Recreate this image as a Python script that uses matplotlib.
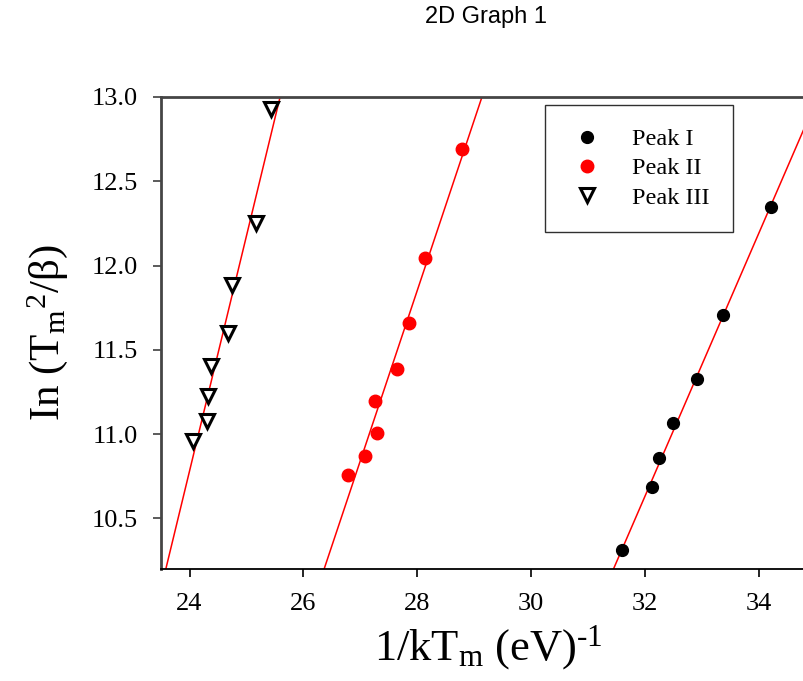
import numpy as np
import matplotlib
matplotlib.use("Agg")
import matplotlib.pyplot as plt
from matplotlib.lines import Line2D

plt.rcParams["font.family"] = ["Liberation Serif", "DejaVu Serif"]
plt.rcParams["mathtext.fontset"] = "custom"
plt.rcParams["mathtext.rm"] = "Liberation Serif"
plt.rcParams["mathtext.it"] = "Liberation Serif:italic"

# 1/kTm (eV^-1) vs ln(Tm^2/beta) for the three glow peaks
peak1_x = [31.60, 32.12, 32.25, 32.49, 32.91, 33.36, 34.21]
peak1_y = [10.310, 10.684, 10.859, 11.065, 11.326, 11.705, 12.348]

peak2_x = [26.79, 27.08, 27.29, 27.25, 27.64, 27.86, 28.13, 28.78]
peak2_y = [10.760, 10.871, 11.009, 11.194, 11.388, 11.659, 12.045, 12.691]

peak3_x = [24.06, 24.30, 24.33, 24.37, 24.67, 24.75, 25.17, 25.43]
peak3_y = [10.962, 11.075, 11.225, 11.406, 11.602, 11.883, 12.253, 12.930]

xticks = [24, 26, 28, 30, 32, 34]
yticks = [10.5, 11.0, 11.5, 12.0, 12.5, 13.0]
xlim = (23.5, 35.0)
ylim = (10.2, 13.0)

fig = plt.figure(figsize=(8.04, 6.81), dpi=100)
ax = fig.add_axes([0.2003, 0.1645, 0.8147, 0.6931])

# linear fits (red lines run across the whole plot)
yy = np.array(ylim)
for xs, ys in [(peak1_x, peak1_y), (peak2_x, peak2_y), (peak3_x, peak3_y)]:
    m, b = np.polyfit(xs, ys, 1)
    ax.plot((yy - b) / m, yy, color="red", lw=1.1, zorder=1)

ax.plot(peak1_x, peak1_y, "o", color="black", ms=8.5, zorder=3)
ax.plot(peak2_x, peak2_y, "o", color="red", ms=9, zorder=3)
ax.plot(peak3_x, peak3_y, "v", mfc="white", mec="black", mew=2.2, ms=9.5, zorder=3)

ax.set_xlim(*xlim)
ax.set_ylim(*ylim)
ax.set_xticks(xticks)
ax.set_yticks(yticks)
ax.set_yticklabels([f"{v:.1f}" for v in yticks])
ax.tick_params(axis="both", direction="out", length=6, width=1.2, labelsize=19, pad=11)
ax.tick_params(axis="y", colors="#404040", labelcolor="black")

for side in ["left", "top"]:
    ax.spines[side].set_color("#454545")
    ax.spines[side].set_linewidth(2.0)
ax.spines["bottom"].set_color("black")
ax.spines["bottom"].set_linewidth(1.3)
ax.spines["right"].set_visible(False)

ax.set_xlabel(r"1/kT$_\mathrm{m}$ (eV)$^{\text{-1}}$", fontsize=32, labelpad=6)
ax.set_ylabel(r"In (${\mathrm{T}_\mathrm{m}}^{\mathrm{2}}$/$\mathrm{\beta}$)", fontsize=31, labelpad=15)

handles = [
    Line2D([], [], ls="none", marker="o", color="black", ms=8.5),
    Line2D([], [], ls="none", marker="o", color="red", ms=9),
    Line2D([], [], ls="none", marker="v", mfc="white", mec="black", mew=2.2, ms=9.5),
]
leg = ax.legend(handles, ["Peak I", "Peak II", "Peak III"], loc="upper left",
                bbox_to_anchor=(0.586, 0.983), borderaxespad=0, fontsize=17.5,
                frameon=True, fancybox=False, shadow=False, framealpha=1,
                borderpad=0.95, labelspacing=0.3, handlelength=1.6, handletextpad=1.05)
leg.get_frame().set_edgecolor("#303030")
leg.get_frame().set_linewidth(1.0)

fig.text(486 / 804, 1 - 17 / 681, "2D Graph 1", ha="center", va="center",
         family="Liberation Sans", fontsize=17)

fig.savefig("out.png", dpi=100)
